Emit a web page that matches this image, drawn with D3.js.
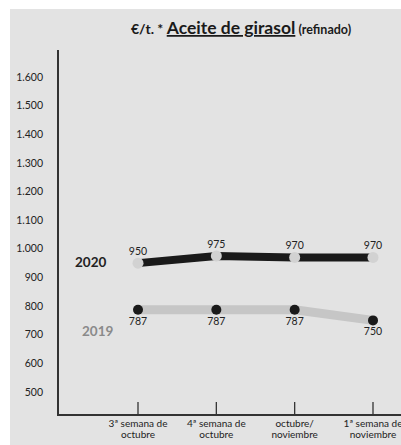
<!DOCTYPE html>
<html>
<head>
<meta charset="utf-8">
<script src="https://d3js.org/d3.v7.min.js"></script>
<style>
  body { margin: 0; background: #fff; }
  text { font-family: Lato, "Open Sans", sans-serif; }
</style>
</head>
<body>
<svg width="401" height="445"></svg>
<script>
// data
var periods = ['3ª semana de|octubre', '4ª semana de|octubre', 'octubre/|noviembre', '1ª semana de|noviembre'];
var values2020 = [950, 975, 970, 970];
var values2019 = [787, 787, 787, 750];
var yTicks = [500, 600, 700, 800, 900, 1000, 1100, 1200, 1300, 1400, 1500, 1600];

var svg = d3.select('svg');

// gray panel
svg.append('rect').attr('x', 10).attr('y', 9).attr('width', 391).attr('height', 436).attr('fill', '#e3e3e3');

var x = d3.scalePoint().domain(periods).range([138, 373]);
var y = d3.scaleLinear().domain([500, 1600]).range([392, 77]);

// title
var title = svg.append('text').attr('x', 131).attr('y', 34).attr('fill', '#1a1a1a');
title.append('tspan').attr('font-size', 14).attr('font-weight', 'bold').text('€/t. * ');
title.append('tspan').attr('font-size', 17.5).attr('font-weight', 'bold').attr('text-decoration', 'underline').text('Aceite de girasol');
title.append('tspan').attr('font-size', 12.5).attr('font-weight', 'bold').text(' (refinado)');

// y tick labels
svg.selectAll('.ylab')
  .data(yTicks)
  .enter().append('text')
  .attr('x', 43)
  .attr('y', function(d) { return y(d); })
  .attr('dy', '0.35em')
  .attr('text-anchor', 'end')
  .attr('font-size', 10.5)
  .attr('fill', '#222')
  .text(function(d) { return d3.format(',')(d).replace(',', '.'); });

// axes
svg.append('line').attr('x1', 58).attr('x2', 58).attr('y1', 50).attr('y2', 415).attr('stroke', '#333').attr('stroke-width', 2);
svg.append('line').attr('x1', 57).attr('x2', 401).attr('y1', 415).attr('y2', 415).attr('stroke', '#333').attr('stroke-width', 2);

svg.selectAll('.xtick')
  .data(periods)
  .enter().append('line')
  .attr('x1', function(d) { return x(d); })
  .attr('x2', function(d) { return x(d); })
  .attr('y1', 402).attr('y2', 415)
  .attr('stroke', '#333').attr('stroke-width', 1.3);

var xl = svg.selectAll('.xlab')
  .data(periods)
  .enter().append('text')
  .attr('text-anchor', 'middle')
  .attr('font-size', 10)
  .attr('fill', '#222');
xl.append('tspan')
  .attr('x', function(d) { return x(d); })
  .attr('y', 427)
  .text(function(d) { return d.split('|')[0]; });
xl.append('tspan')
  .attr('x', function(d) { return x(d); })
  .attr('y', 438)
  .text(function(d) { return d.split('|')[1]; });

var line = d3.line()
  .x(function(d, i) { return x(periods[i]); })
  .y(function(d) { return y(d); });

// 2019 series
svg.append('path').datum(values2019)
  .attr('d', line).attr('fill', 'none')
  .attr('stroke', '#c6c6c6').attr('stroke-width', 9);
svg.selectAll('.dot19').data(values2019).enter().append('circle')
  .attr('cx', function(d, i) { return x(periods[i]); })
  .attr('cy', function(d) { return y(d); })
  .attr('r', 5).attr('fill', '#1a1a1a');
svg.selectAll('.lab19').data(values2019).enter().append('text')
  .attr('x', function(d, i) { return x(periods[i]); })
  .attr('y', function(d) { return y(d) + 15; })
  .attr('text-anchor', 'middle').attr('font-size', 10.5).attr('fill', '#222')
  .text(function(d) { return d; });

// 2020 series
svg.append('path').datum(values2020)
  .attr('d', line).attr('fill', 'none')
  .attr('stroke', '#1a1a1a').attr('stroke-width', 8);
svg.selectAll('.dot20').data(values2020).enter().append('circle')
  .attr('cx', function(d, i) { return x(periods[i]); })
  .attr('cy', function(d) { return y(d); })
  .attr('r', 5.5).attr('fill', '#d2d2d2');
svg.selectAll('.lab20').data(values2020).enter().append('text')
  .attr('x', function(d, i) { return x(periods[i]); })
  .attr('y', function(d) { return y(d) - 8; })
  .attr('text-anchor', 'middle').attr('font-size', 10.5).attr('fill', '#222')
  .text(function(d) { return d; });

// series names
svg.append('text').attr('x', 75).attr('y', 267).attr('font-size', 13.5).attr('font-weight', 'bold').attr('fill', '#222').text('2020');
svg.append('text').attr('x', 82).attr('y', 336).attr('font-size', 13.5).attr('font-weight', 'bold').attr('fill', '#8a8a8a').text('2019');
</script>
</body>
</html>
